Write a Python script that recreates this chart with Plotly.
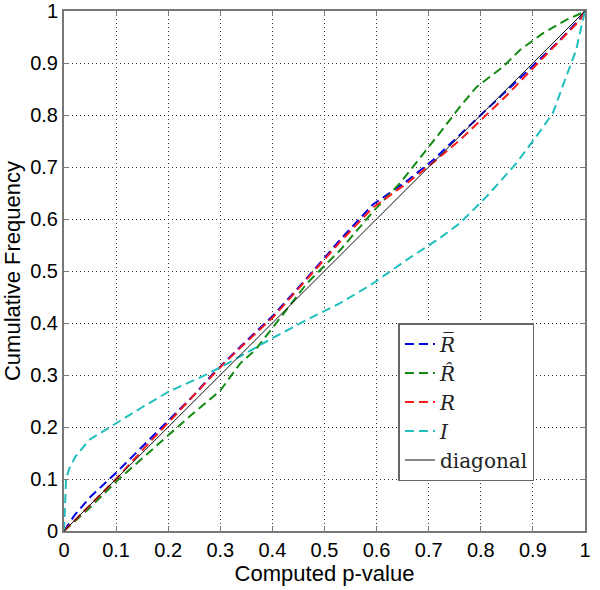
import plotly.graph_objects as go

# ---- data ----
rbar_x = [0, 0.02, 0.05, 0.1, 0.15, 0.2, 0.25, 0.284, 0.338, 0.402, 0.466, 0.53, 0.593, 0.657, 0.708, 0.76, 0.8, 0.85, 0.9, 0.95, 0.99, 1]
rbar_y = [0, 0.03, 0.065, 0.112, 0.162, 0.212, 0.262, 0.3, 0.354, 0.415, 0.486, 0.56, 0.628, 0.672, 0.713, 0.762, 0.8, 0.848, 0.895, 0.942, 0.985, 1]

rhat_x = [0, 0.05, 0.1, 0.15, 0.2, 0.25, 0.3, 0.338, 0.367, 0.402, 0.466, 0.53, 0.593, 0.645, 0.696, 0.721, 0.76, 0.792, 0.843, 0.875, 0.919, 0.964, 0.996, 1]
rhat_y = [0, 0.045, 0.095, 0.14, 0.184, 0.228, 0.27, 0.322, 0.348, 0.393, 0.476, 0.54, 0.614, 0.669, 0.733, 0.765, 0.816, 0.854, 0.893, 0.925, 0.957, 0.983, 0.997, 1]

r_x = [0, 0.02, 0.05, 0.1, 0.15, 0.2, 0.25, 0.3, 0.338, 0.402, 0.466, 0.53, 0.593, 0.657, 0.708, 0.76, 0.8, 0.85, 0.9, 0.95, 0.99, 1]
r_y = [0, 0.02, 0.05, 0.1, 0.155, 0.208, 0.26, 0.315, 0.352, 0.412, 0.484, 0.556, 0.622, 0.668, 0.708, 0.752, 0.79, 0.838, 0.89, 0.94, 0.982, 1]

i_x = [0, 0.002, 0.004, 0.01, 0.022, 0.048, 0.099, 0.15, 0.201, 0.265, 0.303, 0.341, 0.402, 0.466, 0.53, 0.593, 0.657, 0.721, 0.76, 0.811, 0.868, 0.906, 0.938, 0.964, 0.983, 0.996, 1]
i_y = [0, 0.05, 0.1, 0.12, 0.143, 0.175, 0.207, 0.238, 0.268, 0.297, 0.316, 0.338, 0.372, 0.406, 0.438, 0.476, 0.521, 0.563, 0.592, 0.643, 0.707, 0.758, 0.803, 0.874, 0.925, 0.983, 1]

diag_x = [0, 1]
diag_y = [0, 1]

ticks = [0, 0.1, 0.2, 0.3, 0.4, 0.5, 0.6, 0.7, 0.8, 0.9, 1]
tick_text = ["0", "0.1", "0.2", "0.3", "0.4", "0.5", "0.6", "0.7", "0.8", "0.9", "1"]

names = ["<i>R\u0305</i>", "<i>R\u0302</i>", "<i>R</i>", "<i>I</i>", "diagonal"]
colors = ["#0000e6", "#138a13", "#ff1a1a", "#1fbfbf", "#111111"]

DASH = "9px,5px"

fig = go.Figure()
series = [(rbar_x, rbar_y), (rhat_x, rhat_y), (r_x, r_y), (i_x, i_y)]
for (xs, ys), nm, c in zip(series, names[:4], colors[:4]):
    fig.add_trace(go.Scatter(x=xs, y=ys, mode="lines", name=nm,
                             line=dict(color=c, width=2, dash=DASH)))
fig.add_trace(go.Scatter(x=diag_x, y=diag_y, mode="lines", name=names[4],
                         line=dict(color=colors[4], width=1)))

axis_common = dict(
    range=[0, 1], tickvals=ticks, ticktext=tick_text,
    showgrid=True, gridcolor="#333", griddash="1px,3px", gridwidth=1,
    zeroline=False, showline=True, linecolor="#777", linewidth=2, mirror="ticks",
    ticks="inside", ticklen=5, tickcolor="#777", tickwidth=1,
    tickfont=dict(family="Liberation Sans, Arial, sans-serif", size=20, color="#000"),
    automargin=False,
)

fig.update_xaxes(**axis_common,
                 title=dict(text="Computed p-value", standoff=4,
                            font=dict(family="Liberation Sans, Arial, sans-serif", size=22, color="#000")))
fig.update_yaxes(**axis_common,
                 title=dict(text="Cumulative Frequency", standoff=8,
                            font=dict(family="Liberation Sans, Arial, sans-serif", size=22, color="#000")))

fig.update_layout(
    width=600, height=590,
    margin=dict(l=64, r=15, t=11, b=59),
    plot_bgcolor="white", paper_bgcolor="white",
    legend=dict(x=0.903, xanchor="right", y=0.4, yanchor="top",
                bgcolor="white", bordercolor="#666", borderwidth=1.5,
                font=dict(family="DejaVu Serif, Liberation Serif, serif", size=20, color="#222"),
                itemwidth=30, tracegroupgap=0),
    showlegend=True,
)

fig.write_html("out.html", config={"displayModeBar": False},
               post_script="document.body.style.margin='0';document.body.style.overflow='hidden';")
